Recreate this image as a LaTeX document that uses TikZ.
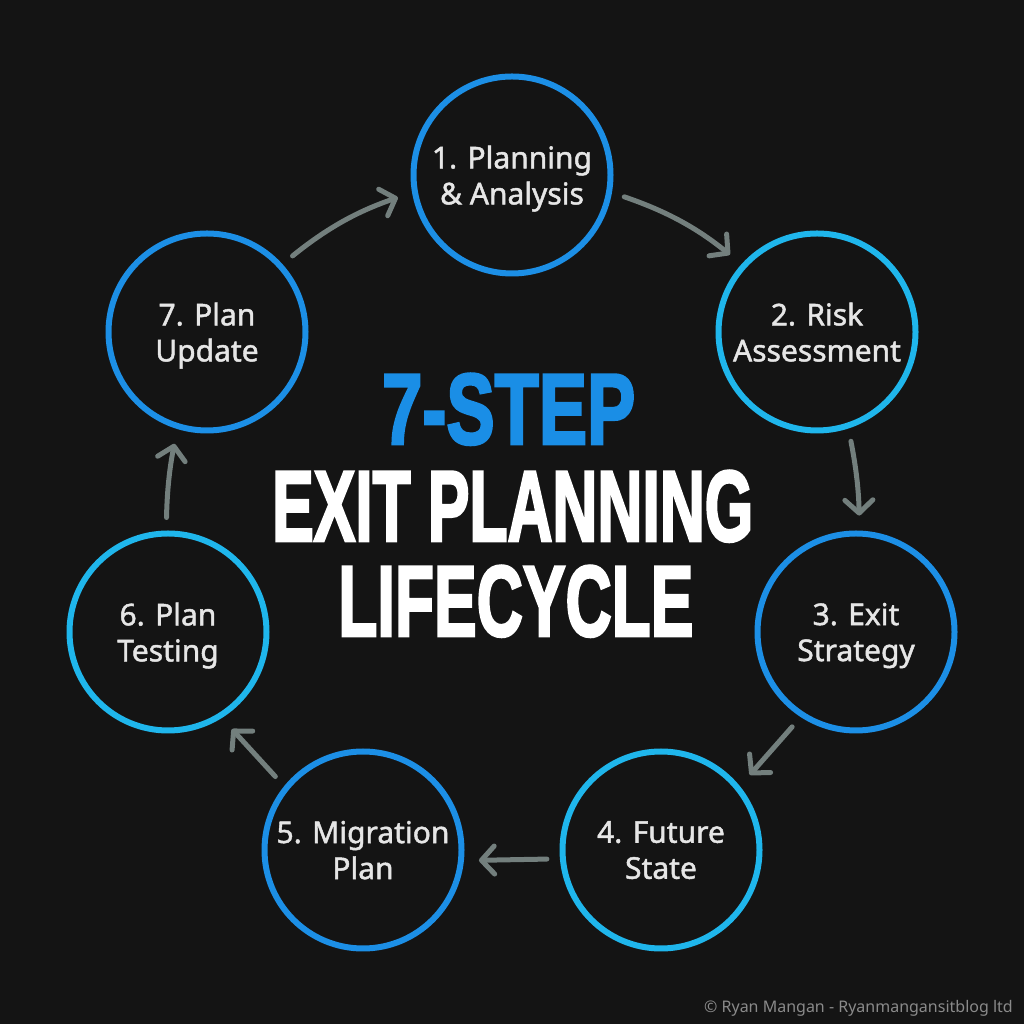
\documentclass[tikz,border=0pt]{standalone}
\usepackage{graphicx}
\usepackage{fontspec}
\setmainfont{Noto Sans}
\newfontfamily\stepfont[FakeBold=1.5]{Noto Sans}
\newfontfamily\titlefont[FakeBold=3]{Liberation Sans Bold}
\usetikzlibrary{arrows.meta}
\definecolor{bg}{HTML}{141414}
\definecolor{ringblue}{HTML}{1C8FE6}
\definecolor{ringcyan}{HTML}{1FB6EC}
\definecolor{arrowgray}{HTML}{737F7D}
\definecolor{txt}{HTML}{E6E6E6}
\definecolor{stepblue}{HTML}{1A8EE6}
\definecolor{copygray}{HTML}{8A8A8A}
\begin{document}
\begin{tikzpicture}[x=1pt, y=1pt,
  main/.style = {draw, circle, line width=6pt, minimum size=197pt, fill=bg, text=txt, align=center, text depth=0pt, font=\stepfont\fontsize{30}{36}\selectfont},
  dk/.style = {draw=ringblue}, lt/.style = {draw=ringcyan},
  arr/.style = {draw=arrowgray, line width=5pt, line cap=round, -{Straight Barb[round, length=13pt, width=28pt]}, shorten <=13pt, shorten >=15pt},
  title/.style = {anchor=south west, inner sep=0pt}]
\fill[bg] (0,0) rectangle (1024,1024);
\useasboundingbox (0,0) rectangle (1024,1024);
\node[main, dk] (s1) at (512,849) {1. Planning\\\& Analysis};
\node[main, lt] (s2) at (817,692) {2. Risk\\Assessment};
\node[main, dk] (s3) at (856,392) {3. Exit\\Strategy};
\node[main, lt] (s4) at (661,174) {4. Future\\State};
\node[main, dk] (s5) at (363,174) {5. Migration\\Plan};
\node[main, lt] (s6) at (168,392) {6. Plan\\Testing};
\node[main, dk] (s7) at (207,692) {7. Plan\\Update};
\draw[arr] (s1.-10) to[bend left=10] (s2.138);
\draw[arr] (s2.-72) to[bend left=5] (s3.88);
\draw[arr] (s3.237) -- (s4.39);
\draw[arr] (s4.185) -- (s5.-6);
\draw[arr] (s5.141) -- (s6.-58);
\draw[arr] (s6.91) to[bend left=5] (s7.253);
\draw[arr] (s7.42) to[bend left=10] (s1.190);
\node[title, text=stepblue] (t1) at (382,579) {\resizebox{253pt}{70pt}{\titlefont 7-STEP}};
\node[title, text=white] (t2) at (272,482) {\resizebox{481pt}{70pt}{\titlefont EXIT PLANNING}};
\node[title, text=white] (t3) at (338,387) {\resizebox{355pt}{70pt}{\titlefont LIFECYCLE}};
\node[anchor=base east, inner sep=0pt, text=copygray, font=\fontsize{16}{20}\selectfont] (cr) at (1013,11) {© Ryan Mangan - Ryanmangansitblog ltd};
\end{tikzpicture}
\end{document}
